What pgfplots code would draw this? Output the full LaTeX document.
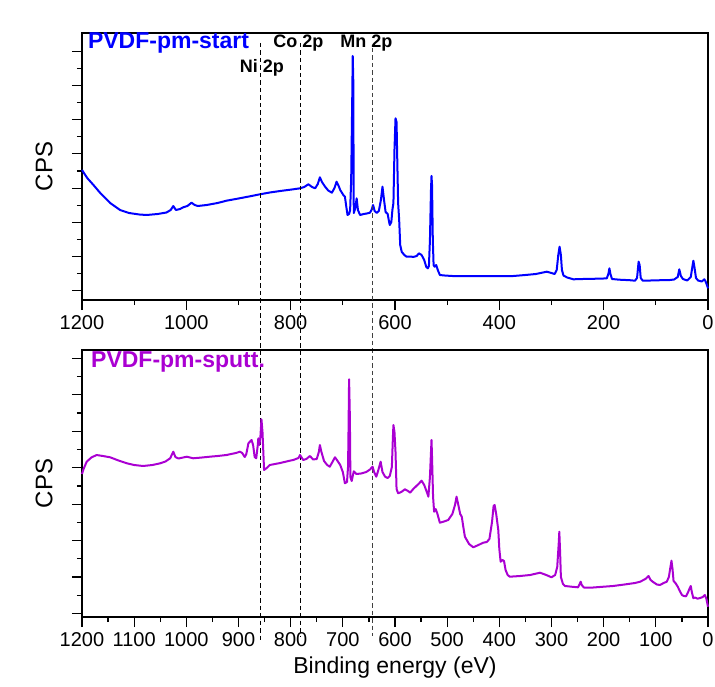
\documentclass[border=0pt]{standalone}
\usepackage{fontspec}
\setmainfont{Liberation Sans}
\usepackage{pgfplots}
\pgfplotsset{compat=1.18}
\definecolor{specblue}{RGB}{0,0,255}
\definecolor{specpurple}{RGB}{170,0,210}
\pgfplotsset{
  xpsaxis/.style={
    scale only axis, width=626pt, height=267pt,
    xmin=0, xmax=1200, x dir=reverse, ymin=0, ymax=267,
    axis line style={line width=1.3pt},
    tick align=outside, xtick pos=bottom, ytick pos=left,
    major tick length=10pt, minor tick length=5pt,
    every tick/.style={black, line width=1.2pt},
    yticklabels={},
    tick label style={font=\fontsize{20}{24}\selectfont},
    /pgf/number format/assume math mode=true,
    /pgf/number format/1000 sep={},
    ylabel={CPS},
    ylabel style={font=\fontsize{24}{28}\selectfont, at={(axis description cs:-0.0607,0.5)}, anchor=center, rotate=0},
    clip=false,
  }
}
\begin{document}
\begin{tikzpicture}
\useasboundingbox (0,0) rectangle (715pt,686pt);
% top panel
\begin{axis}[xpsaxis, at={(82pt,386pt)}, anchor=south west,
  xtick={0,200,...,1200}, minor xtick={100,300,...,1100},
  ytick={9.3,43.5,77.7,111.9,146.1,180.3,214.5,248.7},
  minor ytick={26.4,60.6,94.8,129,163.2,197.4,231.6},
  xticklabel style={yshift=-2pt}]
\addplot[specblue, line width=2pt, line join=round] coordinates {
(1200,130) (1190,122) (1178,115) (1165,107) (1146,97) (1127,90) (1110,87) (1090,85.5) (1076,85) (1055,86) (1038,87.5) (1030,90) (1025,94) (1020,90) (1012,91) (1006,92.7) (998,94) (990,97.3) (984,95) (978,94) (961,95) (940,97) (923,99.3) (900,101.5) (880,103.5) (859,105.7) (840,107.5) (820,109) (795,110.7) (782,111.7) (774,113) (766,115.7) (759,113) (753,111.7) (748,116) (744,122.7) (740,118) (734,113.3) (728,109.5) (721,107.3) (716,112) (712,118.3) (708,114) (705,110) (699,105) (696,103.3) (693,92) (691,85) (688,86) (686,90) (684,120) (682,200) (681,244) (680,220) (679.5,150) (679,87) (676,92) (673.5,101.7) (671,90) (667,85) (660,86) (654,86.5) (648,87.3) (645,90) (642,95) (639,89) (635,87) (631,89) (627,100) (624,113.3) (621,100) (618,88) (614,86) (612,80) (610,75) (607,78) (605,90) (603,97) (601,150) (599,181.7) (597,178) (596,150) (594,97) (592,80) (590,55) (587,48) (582,45) (578,43.3) (570,43.5) (565,43) (558.5,44) (554,46.7) (549,45) (544,40) (540,33) (537,31.7) (535,34) (533,60) (531,110) (530,124) (529,115) (527.5,60) (526,35) (524,33.3) (521,35) (518,30) (514,25) (505,24.5) (490,24) (469,24) (440,24) (400,24) (373,24) (350,25) (330,26) (309,28.3) (300,27) (294,26) (290,30) (287,45) (284.5,53.3) (282,45) (280,30) (277,24.5) (270,22.5) (258,20.7) (240,21) (220,21.2) (200,21.5) (194,21.7) (191,26) (189,31.7) (187,26) (184,21) (170,20.3) (150,19.8) (140,19.3) (136,22) (133,38.3) (131,35) (129,22) (125,19.3) (110,19.5) (90,19.8) (73,20) (65,20.5) (58,23) (55,30.7) (52,24) (48,21) (40,19.5) (33,23) (30,33) (28,39.3) (26,33) (23,22) (19,19.5) (12,18.5) (7,20.7) (5,19) (2,15) (0,11.7)
};
\node[anchor=west, text=specblue, font=\fontsize{23}{27}\selectfont\bfseries] at (axis description cs:0.004,0.964) {PVDF-pm-start};
\node[font=\fontsize{18}{21}\selectfont\bfseries] at (axis cs:855,232) {Ni 2p};
\node[font=\fontsize{18}{21}\selectfont\bfseries] at (axis cs:785,257.3) {Co 2p};
\node[font=\fontsize{18}{21}\selectfont\bfseries] at (axis cs:655,257.3) {Mn 2p};
\draw[black, line width=1.1pt, dash pattern=on 4.5pt off 3pt] (axis cs:857,257) -- (axis cs:857,-340);
\draw[black, line width=1.1pt, dash pattern=on 4.5pt off 3pt] (axis cs:782,257) -- (axis cs:782,-336);
\draw[black!75, line width=1.1pt, dash pattern=on 4.5pt off 3pt] (axis cs:643,252) -- (axis cs:643,-336);
\end{axis}
% bottom panel
\begin{axis}[xpsaxis, at={(82pt,69pt)}, anchor=south west,
  xtick={0,100,...,1200}, minor xtick={50,150,...,1150},
  ytick={3.7,40.1,76.5,112.9,149.3,185.7,222.1,258.5},
  minor ytick={21.9,58.3,94.7,131.1,167.5,203.9,240.3},
  xticklabel style={yshift=-2pt},
  xlabel={Binding energy (eV)},
  xlabel style={font=\fontsize{23}{27}\selectfont, at={(axis description cs:0.5,-0.191)}, anchor=center}]
\addplot[specpurple, line width=2pt, line join=round] coordinates {
(1200,143) (1197,148) (1191,155.3) (1182,159.5) (1172,162) (1160,161) (1146,159.7) (1130,156.5) (1114,153.7) (1100,152) (1083,151) (1065,152) (1050,153.7) (1040,155.5) (1031,158.7) (1028,162) (1025,165.3) (1021,160) (1015,158.5) (999,160.3) (987,158.7) (970,159.5) (955,160.3) (940,161) (923,162) (905,164) (897,165.3) (893,164) (888,160) (885,163) (881,173.7) (875,177) (872,172) (869,160) (866,158.7) (863,172) (862,178.7) (860,172) (858,180) (856,197.7) (854,185) (852,160) (851,147) (846,149) (840,152) (820,154) (800,156.5) (795,157) (785,159) (782,162) (776,157) (770,158) (763,161) (757,157.5) (750,158) (746,165) (744,172) (741,165) (736,156) (730,152) (725,150.3) (720,155) (715,159.7) (710,156) (705,152) (700,145) (696,133.7) (692,135) (690,150.3) (689,190) (688,237.7) (686.5,200) (685.5,140) (683,136) (679,145.7) (674,143) (665,143.5) (655,145) (648,147.5) (643,150.3) (640,145) (636,140.3) (633,145) (627.5,155.3) (624,145) (619,140.3) (614,139) (610,141) (606,150) (604,180) (603,192) (601,185) (599,165) (597,128) (594,123.7) (588,125) (581,127.7) (575,126) (571,124.3) (565,128) (555,133) (549,136.3) (544,132) (539,125) (536,120.3) (533,140) (531,165) (530,177) (529,160) (527,120) (525,105.3) (522,108) (519,103.7) (514,94.3) (506,95.5) (498,97) (490,103) (485,112) (482,120.3) (479,113) (475,103) (472,100.3) (469,90) (466,80.3) (458,73) (450,69.7) (440,72) (431,74.3) (424,75) (419,78) (414,95) (411,111) (409,112) (406,103) (402,87) (400,68) (397.5,55.3) (394,57) (391,56) (388,47) (384,42) (380,40.3) (360,41) (341,42) (322,44.3) (310,42) (300,39.7) (293,42) (289,50) (286,75) (285,85.3) (283.5,65) (282,40) (278,33) (274,31) (260,30.2) (249,29.7) (246,33) (244,35.3) (242,32) (238,29.5) (220,29.5) (200,30.3) (182,31) (160,32.5) (140,34) (130,35.3) (120,38) (114,41) (110,37) (106,35.3) (98,32.5) (92,32) (85,34) (79,35.3) (75,40) (72,50) (70,56.3) (68,48) (66,36) (62,33.7) (58,30.3) (54,26) (50,22) (46,21) (42,20.7) (38,25) (35,29) (33,31) (31,25) (28,18.7) (25,19.5) (20,18.3) (15,19) (10,20) (6,22) (3,18) (0,10.3)
};
\node[anchor=west, text=specpurple, font=\fontsize{23}{27}\selectfont\bfseries] at (axis description cs:0.009,0.956) {PVDF-pm-sputt.};
\end{axis}
\end{tikzpicture}
\end{document}
